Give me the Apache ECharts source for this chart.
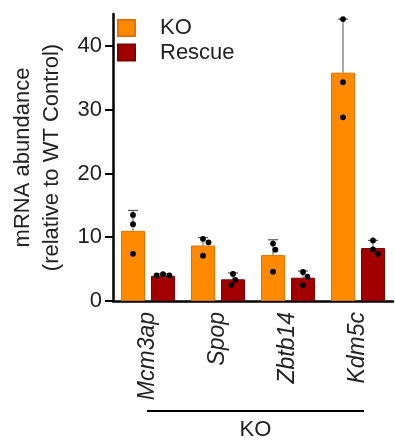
<!DOCTYPE html>
<html>
<head>
<meta charset="utf-8">
<script src="https://cdn.jsdelivr.net/npm/echarts@6/dist/echarts.min.js"></script>
<style>
html,body{margin:0;padding:0;background:#fff;}
#chart{width:395px;height:442px;}
</style>
</head>
<body>
<div id="chart"></div>
<script>
// ---- data ----
const categories = ['Mcm3ap', 'Spop', 'Zbtb14', 'Kdm5c'];
const seriesNames = ['KO', 'Rescue'];
const koMean = [11.0, 8.7, 7.2, 35.8];
const rescueMean = [3.95, 3.4, 3.65, 8.3];
const koSD = [3.2, 1.25, 2.4, 8.4];
const rescueSD = [0.3, 1.0, 1.05, 1.2];
const koPoints = [[13.5, 12.05, 7.4], [9.75, 9.2, 7.1], [9.0, 8.05, 4.6], [44.2, 34.3, 28.8]];
const rescuePoints = [[4.2, 4.0, 4.0], [4.25, 3.3, 2.5], [4.55, 3.8, 2.5], [9.5, 8.1, 7.4]];
const yTicks = [0, 10, 20, 30, 40];
const groupLabel = 'KO';
const yTitle = 'mRNA abundance\n(relative to WT Control)';

// ---- style ----
const FONT = 'Liberation Sans, Arial, Helvetica, sans-serif';
const KO_COLOR = '#FF8A00', KO_BORDER = '#E07400';
const RES_COLOR = '#A20000', RES_BORDER = '#7E0000';
const BAR_W = 24, BAR_GAP = 6;
const OFF = (BAR_W + BAR_GAP) / 2;
const DOT = 6.5;

function errRender(offset) {
  return function (params, api) {
    const c = api.value(0), m = api.value(1), sd = api.value(2);
    const p0 = api.coord([c, m]);
    const p1 = api.coord([c, m + sd]);
    const x = p0[0] + offset;
    return {
      type: 'group',
      children: [
        { type: 'line', shape: { x1: x, y1: p0[1], x2: x, y2: p1[1] }, style: { stroke: '#555', lineWidth: 1 } },
        { type: 'line', shape: { x1: x - 5, y1: p1[1], x2: x + 5, y2: p1[1] }, style: { stroke: '#555', lineWidth: 1.2 } }
      ]
    };
  };
}

function swarm(ys) {
  const idx = ys.map((y, i) => i).sort((a, b) => ys[a] - ys[b]);
  const placed = [];
  const xs = new Array(ys.length).fill(0);
  idx.forEach(i => {
    const y = ys[i];
    const cands = [0];
    placed.forEach(p => {
      const dy = Math.abs(p.y - y);
      if (dy < DOT) {
        const dx = Math.sqrt(DOT * DOT - dy * dy) + 0.01;
        cands.push(p.x + dx, p.x - dx);
      }
    });
    cands.sort((a, b) => Math.abs(a) - Math.abs(b) || b - a);
    let chosen = 0;
    for (const cx of cands) {
      if (placed.every(p => Math.hypot(p.x - cx, p.y - y) >= DOT - 0.001)) { chosen = cx; break; }
    }
    xs[i] = chosen;
    placed.push({ x: chosen, y: y });
  });
  return xs;
}

function ptsRender(offset) {
  return function (params, api) {
    const c = api.value(0);
    const vals = [api.value(1), api.value(2), api.value(3)];
    const pts = vals.map(v => api.coord([c, v]));
    const xs = swarm(pts.map(p => p[1]));
    return {
      type: 'group',
      children: pts.map((p, i) => ({
        type: 'circle',
        shape: { cx: p[0] + offset + xs[i], cy: p[1], r: 2.9 },
        style: { fill: '#000' }
      }))
    };
  };
}

const chart = echarts.init(document.getElementById('chart'), null, { renderer: 'canvas' });
const option = {
  animation: false,
  backgroundColor: '#fff',
  textStyle: { fontFamily: FONT },
  grid: { left: 109, right: 2, top: 14, bottom: 141, containLabel: false },
  legend: {
    data: seriesNames,
    orient: 'vertical',
    left: 117, top: 17, padding: 0,
    itemWidth: 17, itemHeight: 16, itemGap: 2.5,
    icon: 'rect',
    textStyle: { fontSize: 22, lineHeight: 17, color: '#222', fontFamily: FONT, padding: [0, 0, 0, 20] }
  },
  xAxis: {
    type: 'category',
    data: categories,
    axisLine: { lineStyle: { color: '#000', width: 2.5 } },
    axisTick: { show: false },
    axisLabel: { rotate: 90, fontSize: 23, fontStyle: 'italic', color: '#222', margin: 11, fontFamily: FONT }
  },
  yAxis: {
    type: 'value', min: 0, max: 45, interval: 10,
    name: yTitle,
    nameLocation: 'middle', nameRotate: 90, nameGap: 47,
    nameTextStyle: { fontSize: 22, color: '#222', lineHeight: 29, fontFamily: FONT, align: 'center' },
    splitLine: { show: false },
    axisLine: { show: true, lineStyle: { color: '#000', width: 2.5 } },
    axisTick: { show: true, length: 8, lineStyle: { color: '#000', width: 2 }, customValues: yTicks },
    axisLabel: { fontSize: 22, color: '#222', margin: 11, fontFamily: FONT, customValues: yTicks }
  },
  series: [
    { name: seriesNames[0], type: 'bar', data: koMean, barWidth: BAR_W, barGap: (BAR_GAP / BAR_W * 100) + '%',
      itemStyle: { color: KO_COLOR, borderColor: KO_BORDER, borderWidth: 1 } },
    { name: seriesNames[1], type: 'bar', data: rescueMean, barWidth: BAR_W, barGap: (BAR_GAP / BAR_W * 100) + '%',
      itemStyle: { color: RES_COLOR, borderColor: RES_BORDER, borderWidth: 1 } },
    { type: 'custom', renderItem: errRender(-OFF), data: koMean.map((m, i) => [i, m, koSD[i]]), z: 3 },
    { type: 'custom', renderItem: errRender(OFF), data: rescueMean.map((m, i) => [i, m, rescueSD[i]]), z: 3 },
    { type: 'custom', renderItem: ptsRender(-OFF), data: koPoints.map((p, i) => [i].concat(p)), z: 4 },
    { type: 'custom', renderItem: ptsRender(OFF), data: rescuePoints.map((p, i) => [i].concat(p)), z: 4 }
  ]
};
chart.setOption(option);

// group bracket under the category labels
const first = chart.convertToPixel({ xAxisIndex: 0 }, 0);
const last = chart.convertToPixel({ xAxisIndex: 0 }, categories.length - 1);
const x1 = first - 1, x2 = last + 6;
chart.setOption({
  graphic: [
    { type: 'line', shape: { x1: x1, y1: 411, x2: x2, y2: 411 }, style: { stroke: '#000', lineWidth: 2.2 } },
    { type: 'text', x: (x1 + x2) / 2, y: 430,
      style: { text: groupLabel, fontSize: 22, fill: '#222', fontFamily: FONT, align: 'center', verticalAlign: 'middle' } }
  ]
});
</script>
</body>
</html>
